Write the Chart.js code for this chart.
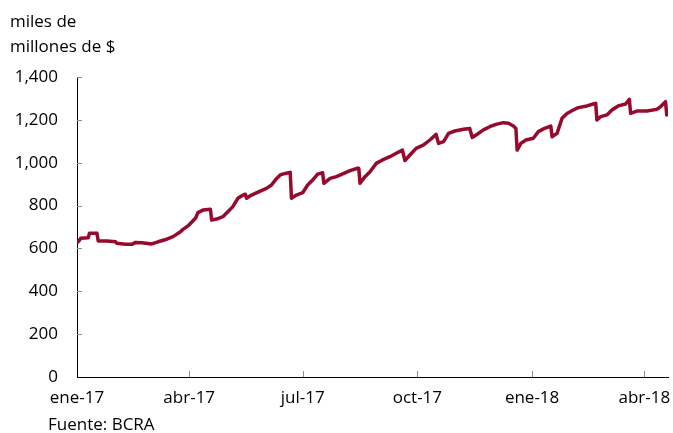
<!DOCTYPE html>
<html><head><meta charset="utf-8">
<script src="https://cdn.jsdelivr.net/npm/chart.js@4.4.1/dist/chart.umd.min.js"></script>
<style>html,body{margin:0;padding:0;background:#fff}#wrap{width:673px;height:433px}</style>
</head><body><div id="wrap"><canvas id="c" width="673" height="433"></canvas></div>
<script>
const dates = ['2017-01-02','2017-01-04','2017-01-10','2017-01-11','2017-01-17','2017-01-18','2017-01-25','2017-02-01','2017-02-02','2017-02-09','2017-02-14','2017-02-17','2017-02-22','2017-03-02','2017-03-07','2017-03-14','2017-03-19','2017-03-25','2017-03-27','2017-03-31','2017-04-06','2017-04-08','2017-04-12','2017-04-18','2017-04-19','2017-04-23','2017-04-28','2017-05-02','2017-05-06','2017-05-10','2017-05-13','2017-05-16','2017-05-17','2017-05-21','2017-05-27','2017-06-02','2017-06-06','2017-06-09','2017-06-13','2017-06-17','2017-06-21','2017-06-22','2017-06-26','2017-07-01','2017-07-05','2017-07-09','2017-07-13','2017-07-17','2017-07-18','2017-07-23','2017-07-28','2017-08-03','2017-08-08','2017-08-14','2017-08-15','2017-08-16','2017-08-20','2017-08-24','2017-08-29','2017-09-03','2017-09-09','2017-09-14','2017-09-19','2017-09-21','2017-09-25','2017-09-30','2017-10-06','2017-10-11','2017-10-16','2017-10-18','2017-10-22','2017-10-26','2017-10-31','2017-11-07','2017-11-12','2017-11-14','2017-11-18','2017-11-23','2017-11-28','2017-12-03','2017-12-09','2017-12-13','2017-12-17','2017-12-19','2017-12-20','2017-12-23','2017-12-27','2018-01-02','2018-01-06','2018-01-11','2018-01-16','2018-01-17','2018-01-21','2018-01-25','2018-01-29','2018-02-03','2018-02-07','2018-02-14','2018-02-19','2018-02-21','2018-02-22','2018-02-25','2018-03-02','2018-03-06','2018-03-11','2018-03-17','2018-03-20','2018-03-21','2018-03-26','2018-04-03','2018-04-11','2018-04-14','2018-04-18','2018-04-19'];
const values = [631,647,650,671,671,635,635,631,624,619,619,628,627,621,631,643,655,678,689,705,741,767,779,783,733,737,748,771,795,834,845,853,834,849,865,880,896,919,943,950,955,834,849,860,896,919,947,953,904,927,935,950,963,974,974,904,935,958,997,1013,1028,1044,1059,1010,1036,1067,1083,1106,1132,1090,1098,1137,1148,1156,1160,1118,1133,1153,1168,1179,1187,1184,1171,1160,1059,1090,1106,1114,1145,1160,1171,1121,1137,1207,1230,1246,1257,1265,1274,1277,1199,1215,1223,1246,1265,1274,1296,1230,1241,1241,1249,1261,1285,1223];
const tickDates = ['2017-01-01','2017-04-01','2017-07-01','2017-10-01','2018-01-01','2018-04-01'];
const tickLabels = ['ene-17','abr-17','jul-17','oct-17','ene-18','abr-18'];
const yTicks = [0,200,400,600,800,1000,1200,1400];
const unitLines = ['miles de','millones de $'];
const sourceText = 'Fuente: BCRA';
const startDate = '2017-01-01';
const endDate = '2018-04-20';

function dayOf(s){ return (Date.parse(s+'T00:00:00Z') - Date.parse(startDate+'T00:00:00Z'))/86400000; }
const tickDays = tickDates.map(dayOf);
const points = dates.map((d,i)=>({x:dayOf(d), y:values[i]}));
const FONT = '"Open Sans", "Noto Sans", sans-serif';

const innerTicks = {
  id:'innerTicks',
  afterDraw(chart){
    const {ctx, chartArea:a, scales:{x, y}} = chart;
    ctx.save();
    ctx.strokeStyle = '#8c8c8c'; ctx.lineWidth = 1;
    ctx.beginPath();
    yTicks.forEach(v=>{ if(v===0) return; const py = Math.round(y.getPixelForValue(v))+0.5; ctx.moveTo(a.left, py); ctx.lineTo(a.left+5, py); });
    tickDays.forEach(d=>{ if(d===0) return; const px = Math.round(x.getPixelForValue(d))+0.5; ctx.moveTo(px, a.bottom); ctx.lineTo(px, a.bottom-6); });
    ctx.stroke();
    ctx.fillStyle = '#000';
    ctx.font = '17px ' + FONT;
    ctx.textAlign = 'left'; ctx.textBaseline = 'alphabetic';
    ctx.fillText(unitLines[0], 10, 27);
    ctx.fillText(unitLines[1], 10, 52);
    ctx.fillText(sourceText, 48, 430);
    ctx.restore();
  }
};

new Chart(document.getElementById('c'), {
  type:'line',
  data:{datasets:[{data:points, borderColor:'#960A2D', borderWidth:3.5, pointRadius:0, tension:0, fill:false, borderJoinStyle:'round', borderCapStyle:'round'}]},
  options:{
    responsive:false, animation:false, devicePixelRatio:1,
    layout:{padding:{top:77,right:5,left:0,bottom:0}},
    plugins:{legend:{display:false}, tooltip:{enabled:false}},
    scales:{
      x:{type:'linear', min:0, max:dayOf(endDate),
        afterBuildTicks(s){ s.ticks = tickDays.map(v=>({value:v})); },
        afterFit(s){ s.height = 56; s.paddingLeft = 0; s.paddingRight = 0; },
        grid:{display:false, drawTicks:false},
        border:{display:true, color:'#000', width:1},
        ticks:{autoSkip:false, maxRotation:0, padding:11, color:'#000', font:{family:FONT, size:17},
          callback(v){ const i = tickDays.indexOf(v); return i>=0 ? tickLabels[i] : ''; }}
      },
      y:{min:0, max:1400,
        afterBuildTicks(s){ s.ticks = yTicks.map(v=>({value:v})); },
        afterFit(s){ s.width = 77; },
        grid:{display:false, drawTicks:false},
        border:{display:true, color:'#000', width:1},
        ticks:{padding:19, color:'#000', font:{family:FONT, size:17},
          callback(v){ return v.toLocaleString('en-US'); }}
      }
    }
  },
  plugins:[innerTicks]
});
</script></body></html>
